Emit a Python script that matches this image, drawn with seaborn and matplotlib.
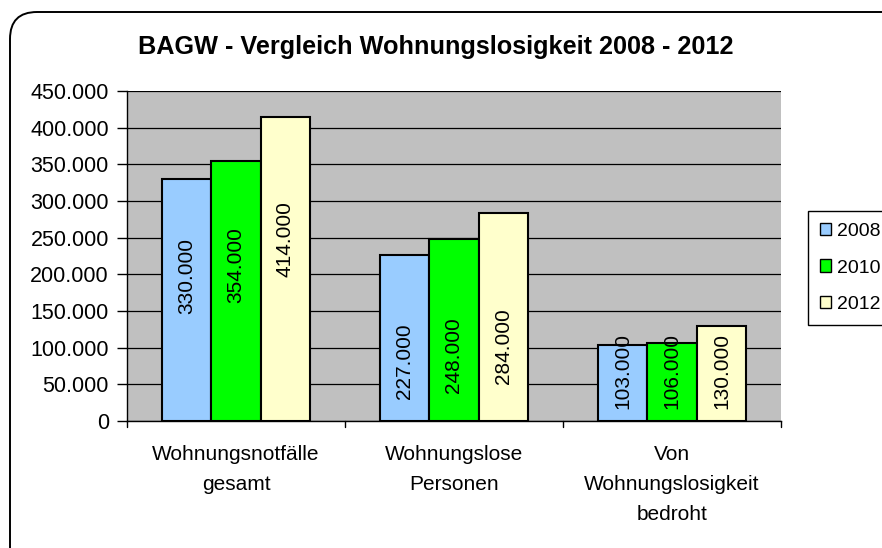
import pandas as pd
import numpy as np
import matplotlib
matplotlib.use("Agg")
import matplotlib.pyplot as plt
import seaborn as sns
from matplotlib.patches import FancyBboxPatch

# chart data
categories = ["Wohnungsnotfälle\ngesamt", "Wohnungslose\nPersonen", "Von\nWohnungslosigkeit\nbedroht"]
years = ["2008", "2010", "2012"]
values_2008 = [330000, 227000, 103000]
values_2010 = [354000, 248000, 106000]
values_2012 = [414000, 284000, 130000]
yticks = [0, 50000, 100000, 150000, 200000, 250000, 300000, 350000, 400000, 450000]
ytick_labels = ["0", "50.000", "100.000", "150.000", "200.000", "250.000",
                "300.000", "350.000", "400.000", "450.000"]
colors = ["#99CCFF", "#00FF00", "#FFFFCC"]

df = pd.DataFrame({
    "Kategorie": categories * 3,
    "Jahr": [y for y in years for _ in categories],
    "Anzahl": values_2008 + values_2010 + values_2012,
})

sns.set_style("white")
plt.rcParams["font.family"] = ["Liberation Sans", "DejaVu Sans"]
plt.rcParams["text.color"] = "black"
plt.rcParams["xtick.color"] = "black"
plt.rcParams["ytick.color"] = "black"

fig = plt.figure(figsize=(8.82, 5.48), dpi=100)
ax = fig.add_axes([127 / 882, 1 - 421 / 548, 654 / 882, 330 / 548])

# rounded outer frame of the chart (inch coordinates)
frame = FancyBboxPatch((0.10, -0.6), 9.5, 5.48 - 0.12 + 0.6,
                       boxstyle="round,pad=0,rounding_size=0.27",
                       transform=fig.dpi_scale_trans, fill=False,
                       edgecolor="black", linewidth=1.4, zorder=0)
fig.patches.append(frame)

sns.barplot(data=df, x="Kategorie", y="Anzahl", hue="Jahr", palette=colors,
            width=0.68, gap=0, edgecolor="black", linewidth=1.5,
            saturation=1, ax=ax, zorder=3, legend=False)

ax.set_facecolor("#C0C0C0")
ax.set_xlim(-0.5, 2.5)
ax.set_ylim(0, 450000)
ax.set_yticks(yticks)
ax.set_yticklabels(ytick_labels, fontsize=15.5)
ax.yaxis.grid(True, color="black", linewidth=0.9, zorder=1)
ax.set_axisbelow(True)
ax.set_xlabel("")
ax.set_ylabel("")
ax.set_xticks([0, 1, 2])
ax.set_xticklabels(categories, fontsize=15, linespacing=1.75)
ax.tick_params(axis="x", length=0, pad=17)
ax.tick_params(axis="y", length=7, width=1, color="black", direction="out", left=True, pad=6)

for s in ["top", "right"]:
    ax.spines[s].set_visible(False)
for s in ["left", "bottom"]:
    ax.spines[s].set_color("black")
    ax.spines[s].set_linewidth(1)

# x tick marks between the groups
for xb in [-0.5, 0.5, 1.5, 2.5]:
    ax.plot([xb, xb], [0, -0.018], transform=ax.get_xaxis_transform(),
            color="black", linewidth=1, clip_on=False, scalex=False, scaley=False)

# value labels inside the bars
for cont, vals in zip(ax.containers, [values_2008, values_2010, values_2012]):
    for bar, v in zip(cont, vals):
        xc = bar.get_x() + bar.get_width() / 2
        ypos = v * 0.6 if v > 300000 else max(v * 0.36, 68000)
        ax.text(xc, ypos, f"{v // 1000}.000", rotation=90, ha="center",
                va="center", fontsize=15, zorder=5)

fig.text(436 / 882, 1 - 47 / 548, "BAGW - Vergleich Wohnungslosigkeit 2008 - 2012",
         ha="center", va="center", fontsize=18.2, fontweight="bold")

handles = [plt.Rectangle((0, 0), 1, 1, facecolor=c, edgecolor="black", linewidth=1) for c in colors]
leg = fig.legend(handles, years, loc="center left", bbox_to_anchor=(808 / 882, 1 - 268 / 548),
                 frameon=True, fancybox=False, edgecolor="black", fontsize=14,
                 handlelength=0.6, handleheight=0.6, handletextpad=0.3,
                 labelspacing=1.0, borderpad=0.6, borderaxespad=0, framealpha=1)
leg.get_frame().set_linewidth(1)

fig.savefig("out.png", dpi=100)
